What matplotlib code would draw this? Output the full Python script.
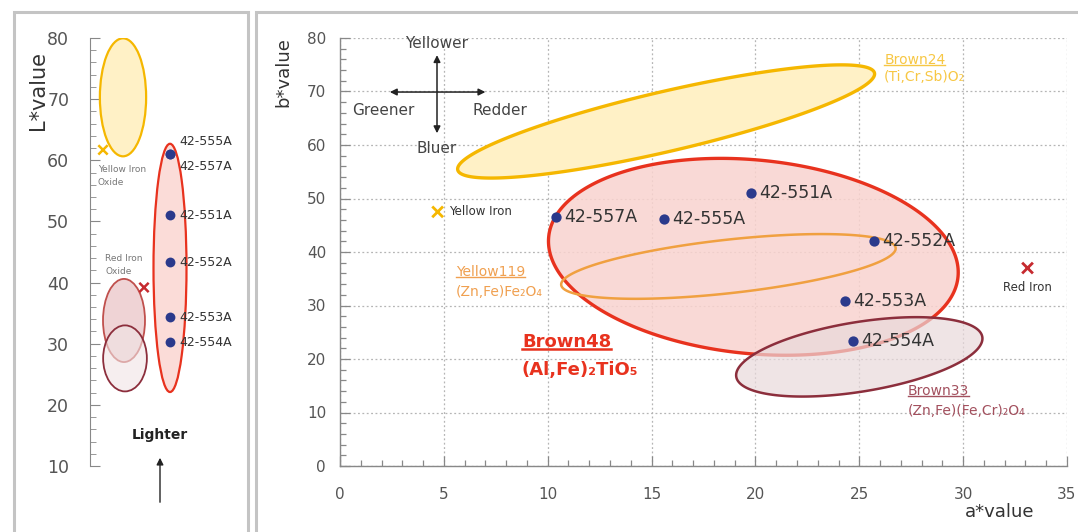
import matplotlib
matplotlib.use("Agg")
import matplotlib.pyplot as plt
import numpy as np
from matplotlib.lines import Line2D
from matplotlib.patches import Ellipse, Rectangle
from matplotlib.ticker import MultipleLocator
from matplotlib.transforms import IdentityTransform

W, H, DPI = 1078, 532, 100

# measured samples
SAMPLES = ["42-557A", "42-555A", "42-551A", "42-552A", "42-553A", "42-554A"]
A_VALUES = [10.4, 15.6, 19.8, 25.7, 24.3, 24.7]
B_VALUES = [46.5, 46.2, 51.0, 42.1, 30.8, 23.4]
L_VALUES = [61.0, 61.0, 51.0, 43.3, 34.3, 30.2]

# reference iron oxides
REF_NAMES = ["Yellow Iron", "Red Iron"]
REF_A = [4.7, 33.1]
REF_B = [47.5, 37.0]
REF_L = [61.7, 39.2]

# pigment ranges in the a*b* plane
PIGMENTS = ["Brown24", "Brown48", "Yellow119", "Brown33"]
FORMULAS = ["(Ti,Cr,Sb)O₂", "(Al,Fe)₂TiO₅", "(Zn,Fe)Fe₂O₄", "(Zn,Fe)(Fe,Cr)₂O₄"]
ELL_A = [15.7, 19.9, 18.7, 25.0]
ELL_B = [64.4, 39.1, 37.3, 20.4]
ELL_HALF_A = [10.3, 9.9, 8.1, 6.0]
ELL_HALF_B = [5.6, 18.1, 5.0, 6.5]
ELL_TILT = [13.1, -5.6, 6.3, 9.2]

# pigment ranges on the L* scale
L_CENTER = [70.3, 42.4, 33.8, 27.6]
L_HEIGHT = [19.3, 40.6, 13.6, 10.8]

INK = "#333333"
NAVY = "#2b3a8c"
EDGE = ["#f5b700", "#e8321e", "#f0a040", "#8c2e3c"]
FILL = ["#fff1c6", "#f9d3cf", "none", "#e9d9db"]
FILL_ALPHA = [1.0, 0.85, 1.0, 0.7]
TEXT = ["#f7c744", "#e8321e", "#f0a050", "#a3505e"]
L_EDGE = ["#f5b700", "#e8321e", "#c0504d", "#8c2e3c"]
L_FILL = ["#fff1c6", "#fbdcd8", "#ecc9cb", "#f0e4e5"]
L_ALPHA = [1.0, 1.0, 0.8, 0.6]


def px(x, y):
    return x / W, 1 - y / H


def tilted_ellipse(ax, ca, cb, half_a, half_b, tilt, **kw):
    (x0, y0), (x1, y1) = ax.transData.transform([(0, 0), (1, 1)])
    sx, sy = x1 - x0, y1 - y0
    t = np.linspace(0, 2 * np.pi, 300)
    u = half_a * sx * np.cos(t)
    v = half_b * sy * np.sin(t)
    th = np.radians(tilt)
    xs = u * np.cos(th) - v * np.sin(th)
    ys = u * np.sin(th) + v * np.cos(th)
    return ax.fill(ca + xs / sx, cb + ys / sy, **kw)


fig = plt.figure(figsize=(W / DPI, H / DPI), dpi=DPI, facecolor="white")
plt.rcParams["font.family"] = ["DejaVu Sans"]

# panel frames
for x0, x1 in [(14, 248), (256, 1090)]:
    fig.patches.append(Rectangle(px(x0, 560), (x1 - x0) / W, 548 / H, transform=fig.transFigure,
                                 fill=False, edgecolor="#c4c4c4", linewidth=2.2))

# ---------------- right panel: a*b* ----------------
ax = fig.add_axes([340 / W, 1 - 466 / H, 727 / W, 428 / H])
ax.set_xlim(0, 35)
ax.set_ylim(0, 80)
ax.xaxis.set_major_locator(MultipleLocator(5))
ax.xaxis.set_minor_locator(MultipleLocator(1))
ax.yaxis.set_major_locator(MultipleLocator(10))
ax.yaxis.set_minor_locator(MultipleLocator(2))
ax.grid(which="major", color="#b5b5b5", linestyle=(0, (1.5, 2)), linewidth=0.9)
ax.tick_params(which="both", direction="in", color="#888888", width=0.9, labelcolor="#555555",
               labelsize=11)
ax.tick_params(which="major", length=7)
ax.tick_params(which="minor", length=4)
ax.tick_params(axis="x", pad=15)
ax.tick_params(axis="y", pad=10)
for side in ["top", "right"]:
    ax.spines[side].set_visible(False)
for side in ["left", "bottom"]:
    ax.spines[side].set_color("#888888")
    ax.spines[side].set_linewidth(1.0)
ax.set_axisbelow(True)

for i in range(len(PIGMENTS)):
    kw = dict(zorder=2 + i * 0.1, linewidth=2.4 if i < 2 else 1.8)
    if FILL[i] == "none":
        tilted_ellipse(ax, ELL_A[i], ELL_B[i], ELL_HALF_A[i], ELL_HALF_B[i], ELL_TILT[i],
                       facecolor="none", edgecolor=EDGE[i], **kw)
    else:
        tilted_ellipse(ax, ELL_A[i], ELL_B[i], ELL_HALF_A[i], ELL_HALF_B[i], ELL_TILT[i],
                       facecolor=FILL[i], alpha=FILL_ALPHA[i], edgecolor="none", **kw)
        tilted_ellipse(ax, ELL_A[i], ELL_B[i], ELL_HALF_A[i], ELL_HALF_B[i], ELL_TILT[i],
                       facecolor="none", edgecolor=EDGE[i], **kw)

ax.scatter(A_VALUES, B_VALUES, s=55, color=NAVY, zorder=5, linewidths=0)
for name, a, b in zip(SAMPLES, A_VALUES, B_VALUES):
    ax.annotate(name, (a, b), xytext=(6, 0), textcoords="offset points", va="center",
                fontsize=12.5, color=INK, zorder=6)

ax.scatter(REF_A, REF_B, marker="x", s=60, color=["#f5b700", "#c62a2f"], linewidths=2, zorder=5)
ax.annotate(REF_NAMES[0], (REF_A[0], REF_B[0]), xytext=(8, 0), textcoords="offset points",
            va="center", fontsize=8.5, color=INK)
ax.annotate(REF_NAMES[1], (REF_A[1], REF_B[1]), xytext=(0, -14), textcoords="offset points",
            va="center", ha="center", fontsize=8.5, color=INK)

# compass
arrow = dict(arrowstyle="<|-|>", color="#222222", lw=1.1, mutation_scale=10, shrinkA=0, shrinkB=0)
ax.annotate("", xy=(2.4, 69.9), xytext=(7.0, 69.9), arrowprops=arrow)
ax.annotate("", xy=(4.67, 76.8), xytext=(4.67, 62.2), arrowprops=arrow)
for label, a, b in [("Yellower", 4.67, 78.9), ("Greener", 2.07, 66.5),
                    ("Redder", 7.7, 66.5), ("Bluer", 4.67, 59.3)]:
    ax.text(a, b, label, ha="center", va="center", fontsize=11, color="#444444")

# pigment labels
label_pos = [(26.2, 75.9, 72.7), (8.76, 23.2, 17.9), (5.58, 36.3, 32.5), (27.35, 14.0, 10.3)]
underlined = []
for i, (a, b1, b2) in enumerate(label_pos):
    bold = i == 1
    size = 13 if bold else 10
    t = ax.text(a, b1, PIGMENTS[i], ha="left", va="center", fontsize=size, color=TEXT[i],
                fontweight="bold" if bold else "normal", zorder=6)
    ax.text(a, b2, FORMULAS[i], ha="left", va="center", fontsize=size, color=TEXT[i],
            fontweight="bold" if bold else "normal", zorder=6)
    underlined.append((t, TEXT[i], 1.8 if bold else 1.0))

fig.text(*px(283, 72), "b*value", rotation=90, ha="center", va="center", fontsize=13, color=INK)
fig.text(*px(1000, 512), "a*value", ha="center", va="center", fontsize=13, color=INK)

# ---------------- left panel: L* ----------------
axl = fig.add_axes([90 / W, 1 - 466 / H, 125 / W, 428 / H])
axl.set_xlim(0, 10)
axl.set_ylim(10, 80)
axl.patch.set_alpha(0)
axl.yaxis.set_major_locator(MultipleLocator(10))
axl.yaxis.set_minor_locator(MultipleLocator(2))
axl.set_xticks([])
for side in ["top", "right", "bottom"]:
    axl.spines[side].set_visible(False)
axl.spines["left"].set_color("#888888")
axl.tick_params(which="both", direction="in", color="#888888", labelcolor="#555555", labelsize=12.5,
                pad=15)
axl.tick_params(which="major", length=7)
axl.tick_params(which="minor", length=4)

l_x = [2.64, 6.4, 2.72, 2.8]
l_w = [3.7, 2.64, 3.36, 3.5]
for i in [0, 2, 3, 1]:
    axl.add_patch(Ellipse((l_x[i], L_CENTER[i]), l_w[i], L_HEIGHT[i], facecolor=L_FILL[i],
                          alpha=L_ALPHA[i], edgecolor="none", zorder=2))
    axl.add_patch(Ellipse((l_x[i], L_CENTER[i]), l_w[i], L_HEIGHT[i], facecolor="none",
                          edgecolor=L_EDGE[i], linewidth=1.6 if i < 2 else 1.3, zorder=2))

axl.scatter([6.4] * len(L_VALUES), L_VALUES, s=50, color=NAVY, zorder=5, linewidths=0)
for k, (name, lv) in enumerate(zip(SAMPLES, L_VALUES)):
    dy = {0: -9, 1: 9}.get(k, 0)
    axl.annotate(name, (6.4, lv), xytext=(7, dy), textcoords="offset points", va="center",
                 fontsize=9, color=INK, zorder=6, annotation_clip=False)

axl.scatter([1.04, 4.32], REF_L, marker="x", s=45, color=["#f5b700", "#c62a2f"], linewidths=1.8,
            zorder=5)
fig.text(*px(98, 176), "Yellow Iron\nOxide", ha="left", va="center", fontsize=6.5, color="#777777",
         linespacing=1.5)
fig.text(*px(105, 265), "Red Iron\nOxide", ha="left", va="center", fontsize=6.5, color="#777777",
         linespacing=1.5)

fig.text(*px(38, 90), "L*value", rotation=90, ha="center", va="center", fontsize=15, color=INK)
fig.text(*px(160, 435), "Lighter", ha="center", va="center", fontsize=10, fontweight="bold",
         color="#222222")
fig.add_artist(matplotlib.patches.FancyArrowPatch(px(160, 505), px(160, 455),
                                                  transform=fig.transFigure, arrowstyle="-|>",
                                                  mutation_scale=10, color="#222222", lw=1.0))

# underline pigment names
fig.canvas.draw()
renderer = fig.canvas.get_renderer()
for t, color, lw in underlined:
    bb = t.get_window_extent(renderer)
    fig.lines.append(Line2D([bb.x0, bb.x1], [bb.y0 + 2, bb.y0 + 2], transform=IdentityTransform(),
                            color=color, linewidth=lw))

fig.savefig("out.png", dpi=DPI)
